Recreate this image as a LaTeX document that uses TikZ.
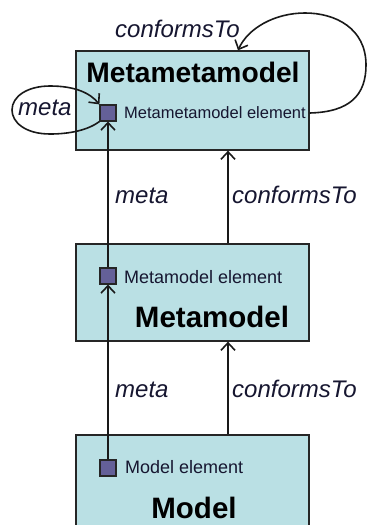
\documentclass[tikz,border=0pt]{standalone}
\usepackage{fontspec}
\setmainfont{Liberation Sans}
\usetikzlibrary{arrows.meta}
\definecolor{boxfill}{RGB}{186,224,228}
\definecolor{elemfill}{RGB}{100,96,152}
\definecolor{ink}{RGB}{22,22,48}
\begin{document}
\begin{tikzpicture}[x=1pt,y=-1pt,
  layerbox/.style={draw=black!85,line width=1.3pt,fill=boxfill,inner sep=0pt},
  elembox/.style={draw=black!85,line width=1.2pt,fill=elemfill,minimum size=16pt,inner sep=0pt},
  boxtitle/.style={font=\fontsize{29.5}{32}\selectfont\bfseries,text=black,inner sep=0pt,anchor=base},
  elemtext/.style={font=\fontsize{18}{20}\selectfont,text=ink,inner sep=0pt,anchor=base west},
  rel/.style={font=\fontsize{24}{26}\selectfont\itshape,text=ink,inner sep=0pt,anchor=base west},
  conn/.style={draw=black!90,line width=1.6pt,-{Straight Barb[length=7.5pt,width=14pt,line width=1.6pt]}}]
\clip (0,0) rectangle (367,525);

% the three modelling layers
\node[layerbox,minimum width=233pt,minimum height=99pt] (mmm) at (192.5,100.5) {};
\node[layerbox,minimum width=233pt,minimum height=97pt] (mm) at (192.5,292.5) {};
\node[layerbox,minimum width=233pt,minimum height=125pt] (m) at (192.5,497.5) {};

\node[boxtitle,font=\fontsize{28.2}{30}\selectfont\bfseries] (mmmtitle) at (193,82) {Metametamodel};
\node[boxtitle] (mmtitle) at (212,327) {Metamodel};
\node[boxtitle] (mtitle) at (194,518) {Model};

\node[elemtext,font=\fontsize{16.5}{18}\selectfont] (mmmtext) at (124,118) {Metametamodel element};
\node[elemtext] (mmtext) at (124,283) {Metamodel element};
\node[elemtext] (mtext) at (125,473) {Model element};

% column for the conformsTo links
\coordinate (cx) at (228,0);
\coordinate (tipx) at (238,0);

% meta links between elements
\draw[conn] (108,461) -- (108,284.5);
\draw[conn] (108,268) -- (108,121.5);

% conformsTo links between layers
\draw[conn] (m.north -| cx) -- (mm.south -| cx);
\draw[conn] (mm.north -| cx) -- (mmm.south -| cx);

% elements
\node[elembox] (e1) at (108,113) {};
\node[elembox] (e2) at (108,276) {};
\node[elembox] (e3) at (108,468) {};

% self conformance of the metametamodel
\draw[conn] (e1 -| mmm.east) .. controls (350,112) and (366,95) .. (366,65)
  .. controls (366,28) and (335,13) .. (305,13)
  .. controls (275,13) and (248,28) .. (mmm.north -| tipx);

% the metametamodel element is its own meta element
\draw[conn] (e1.south west) .. controls (88,130) and (70,134) .. (50,134)
  .. controls (25,134) and (12,122) .. (12,110)
  .. controls (12,96) and (28,86) .. (50,86)
  .. controls (75,86) and (90,93) .. (e1.north west);

% relation labels
\node[rel] (lconf0) at (115,37) {conformsTo};
\node[rel] (lmeta0) at (18,115) {meta};
\node[rel] (lmeta1) at (115,203) {meta};
\node[rel] (lconf1) at (232,203) {conformsTo};
\node[rel] (lmeta2) at (115,397) {meta};
\node[rel] (lconf2) at (232,397) {conformsTo};
\end{tikzpicture}
\end{document}
